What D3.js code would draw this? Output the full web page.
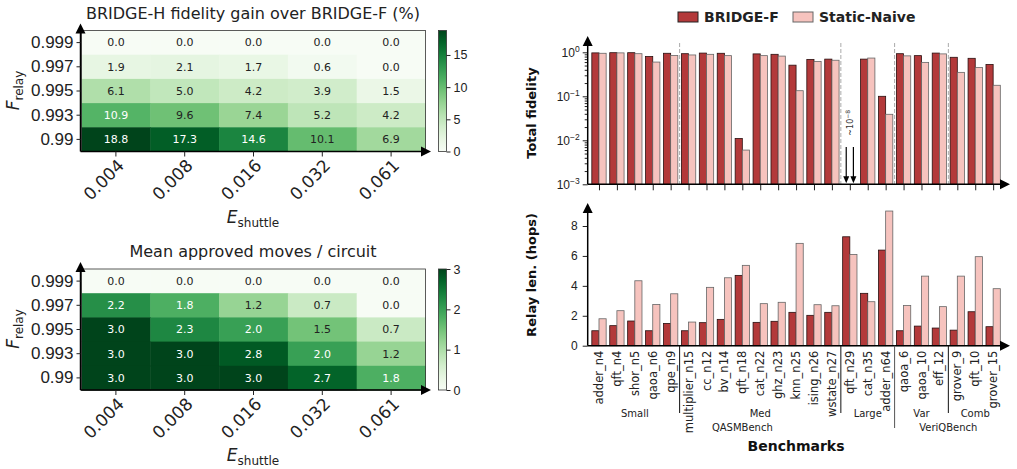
<!DOCTYPE html>
<html>
<head>
<meta charset="utf-8">
<script src="https://cdn.jsdelivr.net/npm/d3@7"></script>
<style>
  body { margin: 0; background: #fff; }
  svg { font-family: "DejaVu Sans", sans-serif; }
</style>
</head>
<body>
<div id="container"></div>
<script>
/* DATA */
const eShuttle = ["0.004", "0.008", "0.016", "0.032", "0.061"];
const fRelay = ["0.999", "0.997", "0.995", "0.993", "0.99"];

// rows follow fRelay, columns follow eShuttle
const gainRows = [
  [0.0, 0.0, 0.0, 0.0, 0.0],
  [1.9, 2.1, 1.7, 0.6, 0.0],
  [6.1, 5.0, 4.2, 3.9, 1.5],
  [10.9, 9.6, 7.4, 5.2, 4.2],
  [18.8, 17.3, 14.6, 10.1, 6.9]
];
const movesRows = [
  [0.0, 0.0, 0.0, 0.0, 0.0],
  [2.2, 1.8, 1.2, 0.7, 0.0],
  [3.0, 2.3, 2.0, 1.5, 0.7],
  [3.0, 3.0, 2.8, 2.0, 1.2],
  [3.0, 3.0, 3.0, 2.7, 1.8]
];

const benchmarks = ["adder_n4", "qft_n4", "shor_n5", "qaoa_n6", "qpe_n9",
  "multiplier_n15", "cc_n12", "bv_n14", "qft_n18", "cat_n22", "ghz_n23", "knn_n25", "ising_n26", "wstate_n27",
  "qft_n29", "cat_n35", "adder_n64",
  "qaoa_6", "qaoa_10", "eff_12",
  "grover_9", "qft_10", "grover_15"];

// index ranges of each size group / suite
const groups = [
  { name: "Small", first: 0, last: 4 },
  { name: "Med", first: 5, last: 13 },
  { name: "Large", first: 14, last: 16 },
  { name: "Var", first: 17, last: 19 },
  { name: "Comb", first: 20, last: 22 }
];
const suites = [
  { name: "QASMBench", first: 0, last: 16 },
  { name: "VeriQBench", first: 17, last: 22 }
];

const fidBridge = [0.97, 0.98, 0.98, 0.80, 0.95, 0.93, 0.96, 0.95, 0.011, 0.92, 0.90, 0.51, 0.69, 0.70,
  1e-8, 0.70, 0.10, 0.93, 0.84, 0.96, 0.77, 0.73, 0.53];
const fidStatic = [0.95, 0.97, 0.93, 0.60, 0.85, 0.87, 0.90, 0.84, 0.006, 0.84, 0.82, 0.134, 0.62, 0.66,
  1e-8, 0.74, 0.039, 0.83, 0.59, 0.92, 0.35, 0.45, 0.178];

const hopsBridge = [1.0, 1.34, 1.65, 1.0, 1.49, 1.0, 1.54, 1.76, 4.70, 1.56, 1.63, 2.23, 2.03, 2.23,
  7.28, 3.50, 6.39, 1.0, 1.31, 1.18, 1.04, 2.27, 1.27];
const hopsStatic = [1.80, 2.34, 4.34, 2.76, 3.47, 1.58, 3.90, 4.54, 5.37, 2.81, 2.90, 6.84, 2.74, 2.67,
  6.10, 2.94, 9.0, 2.69, 4.65, 2.61, 4.65, 5.95, 3.81];

const series = ["BRIDGE-F", "Static-Naive"];

/* CONSTANTS */
const width = 1017, height = 469;
const colF = "#b3393a", colS = "#f6c3be";

const svg = d3.select("#container")
  .append("svg")
  .attr("width", width)
  .attr("height", height);

function arrowUp(x, y) {
  svg.append("path").attr("d", `M${x - 5},${y + 10}L${x},${y}L${x + 5},${y + 10}Z`).attr("fill", "#000");
}
function arrowRight(x, y) {
  svg.append("path").attr("d", `M${x - 10},${y - 5}L${x},${y}L${x - 10},${y + 5}Z`).attr("fill", "#000");
}

/* HEATMAPS */
function heatmap(top, title, rows, vmax, cbTicks) {
  const xs = d3.scaleBand().domain(eShuttle).range([81.5, 425.5]);
  const ys = d3.scaleBand().domain(fRelay).range([top, top + 121]);
  const color = d3.scaleSequential(d3.interpolateGreens).domain([0, vmax]);
  const bottom = top + 121;

  const cells = [];
  rows.forEach((r, i) => r.forEach((v, j) => cells.push({ row: fRelay[i], col: eShuttle[j], v })));

  const g = svg.append("g");
  g.selectAll("rect.cell")
    .data(cells)
    .join("rect")
    .attr("class", "cell")
    .attr("x", d => xs(d.col))
    .attr("y", d => ys(d.row))
    .attr("width", xs.bandwidth() + 0.5)
    .attr("height", ys.bandwidth() + 0.5)
    .attr("fill", d => color(d.v));

  g.selectAll("text.val")
    .data(cells)
    .join("text")
    .attr("class", "val")
    .attr("x", d => xs(d.col) + xs.bandwidth() / 2)
    .attr("y", d => ys(d.row) + ys.bandwidth() / 2)
    .attr("dy", "0.35em")
    .attr("text-anchor", "middle")
    .attr("font-size", 11)
    .attr("fill", d => d.v / vmax > 0.55 ? "#fff" : "#222")
    .text(d => d.v.toFixed(1));

  // frame
  svg.append("rect").attr("x", 81.5).attr("y", top).attr("width", 344).attr("height", 121)
    .attr("fill", "none").attr("stroke", "#333").attr("stroke-width", 0.8);
  svg.append("line").attr("x1", 80.5).attr("x2", 80.5).attr("y1", bottom).attr("y2", top - 4)
    .attr("stroke", "#000").attr("stroke-width", 1.5);
  svg.append("line").attr("x1", 80.5).attr("x2", 422).attr("y1", bottom).attr("y2", bottom)
    .attr("stroke", "#000").attr("stroke-width", 1.5);
  arrowUp(80.5, top - 7);
  arrowRight(431, bottom);

  // axes
  const yAx = svg.append("g").attr("transform", `translate(80.5,0)`)
    .call(d3.axisLeft(ys).tickSize(4).tickPadding(3));
  yAx.select(".domain").remove();
  yAx.selectAll("text").attr("font-size", 17).attr("fill", "#222");

  const xAx = svg.append("g").attr("transform", `translate(0,${bottom})`)
    .call(d3.axisBottom(xs).tickSize(5).tickFormat(""));
  xAx.select(".domain").remove();
  svg.selectAll(null).data(eShuttle).join("text")
    .attr("transform", d => `translate(${xs(d) + xs.bandwidth() / 2 + 5},${bottom + 11}) rotate(-45)`)
    .attr("text-anchor", "end")
    .attr("dy", "0.35em")
    .attr("font-size", 17)
    .attr("fill", "#222")
    .text(d => d);

  // title and labels
  svg.append("text").attr("x", 253).attr("y", top - 12).attr("text-anchor", "middle")
    .attr("font-size", 16).attr("fill", "#222").text(title);

  const yl = svg.append("text")
    .attr("transform", `translate(19,${top + 60}) rotate(-90)`)
    .attr("text-anchor", "middle").attr("fill", "#222");
  yl.append("tspan").attr("font-size", 17).attr("font-style", "italic").text("F");
  yl.append("tspan").attr("font-size", 12).attr("dy", 4).text("relay");

  const xl = svg.append("text").attr("x", 253).attr("y", bottom + 71)
    .attr("text-anchor", "middle").attr("fill", "#222");
  xl.append("tspan").attr("font-size", 17).attr("font-style", "italic").text("E");
  xl.append("tspan").attr("font-size", 12).attr("dy", 4).text("shuttle");

  // colorbar
  const gid = "grad" + Math.round(top);
  const grad = svg.append("defs").append("linearGradient").attr("id", gid)
    .attr("x1", 0).attr("x2", 0).attr("y1", 1).attr("y2", 0);
  d3.range(0, 1.0001, 0.1).forEach(t => grad.append("stop")
    .attr("offset", t).attr("stop-color", color(t * vmax)));
  svg.append("rect").attr("x", 438.5).attr("y", top).attr("width", 8).attr("height", 121)
    .attr("fill", `url(#${gid})`).attr("stroke", "#333").attr("stroke-width", 0.8);
  const cb = d3.scaleLinear().domain([0, vmax]).range([bottom, top]);
  const cAx = svg.append("g").attr("transform", `translate(446.5,0)`)
    .call(d3.axisRight(cb).tickValues(cbTicks).tickSize(4).tickPadding(3).tickFormat(d3.format("d")));
  cAx.select(".domain").remove();
  cAx.selectAll("text").attr("font-size", 12.5).attr("fill", "#222");
}

heatmap(30.5, "BRIDGE-H fidelity gain over BRIDGE-F (%)", gainRows, 18.8, [0, 5, 10, 15]);
heatmap(269, "Mean approved moves / circuit", movesRows, 3, [0, 1, 2, 3]);

/* BAR CHARTS */
const xScale = d3.scaleLinear().domain([-0.63, 22.55]).range([587.7, 1003]);
const bw = 0.4;

// LEGEND
const leg = svg.append("g").attr("transform", "translate(678,12)");
series.forEach((s, i) => {
  const lx = i === 0 ? 0 : 115;
  leg.append("rect").attr("x", lx).attr("y", 0).attr("width", 20).attr("height", 10)
    .attr("fill", i === 0 ? colF : colS).attr("stroke", i === 0 ? "#222" : "#666");
  leg.append("text").attr("x", lx + 26).attr("y", 5).attr("dy", "0.35em")
    .attr("font-size", 14).attr("font-weight", "bold").attr("fill", "#222").text(s);
});

// TOP: TOTAL FIDELITY (LOG)
const yTop = d3.scaleLog().domain([1e-3, 1]).range([184.3, 52.3]);
const yBase = yTop(1e-3);

[4.5, 13.5, 16.5, 19.5].forEach(b => {
  svg.append("line").attr("x1", xScale(b)).attr("x2", xScale(b))
    .attr("y1", 43).attr("y2", yBase)
    .attr("stroke", "#aaa").attr("stroke-dasharray", "4,2").attr("stroke-width", 1);
});

const fidData = benchmarks.map((b, i) => ({ i, f: fidBridge[i], s: fidStatic[i] }));
svg.selectAll("rect.fidF")
  .data(fidData.filter(d => d.f >= 1e-3))
  .join("rect").attr("class", "fidF")
  .attr("x", d => xScale(d.i - bw)).attr("width", xScale(bw) - xScale(0))
  .attr("y", d => yTop(d.f)).attr("height", d => yBase - yTop(d.f))
  .attr("fill", colF).attr("stroke", "#2a1010").attr("stroke-width", 0.8);
svg.selectAll("rect.fidS")
  .data(fidData.filter(d => d.s >= 1e-3))
  .join("rect").attr("class", "fidS")
  .attr("x", d => xScale(d.i)).attr("width", xScale(bw) - xScale(0))
  .attr("y", d => yTop(d.s)).attr("height", d => yBase - yTop(d.s))
  .attr("fill", colS).attr("stroke", "#666").attr("stroke-width", 0.8);

// tiny values marker
fidData.filter(d => d.f < 1e-3).forEach(d => {
  [d.i - bw / 2, d.i + bw / 2].forEach(p => {
    const ax = xScale(p);
    svg.append("line").attr("x1", ax).attr("x2", ax).attr("y1", yTop(7e-3)).attr("y2", yBase - 6)
      .attr("stroke", "#000").attr("stroke-width", 1.2);
    svg.append("path").attr("d", `M${ax - 3},${yBase - 8}L${ax},${yBase - 1}L${ax + 3},${yBase - 8}Z`).attr("fill", "#000");
  });
  const t = svg.append("text")
    .attr("transform", `translate(${xScale(d.i) + 3},${yTop(0.025)}) rotate(-90)`)
    .attr("text-anchor", "middle").attr("font-size", 8).attr("fill", "#333");
  t.append("tspan").text("~10");
  t.append("tspan").attr("dy", -3).attr("font-size", 6).text("\u22128");
});

const yTopAx = svg.append("g").attr("transform", "translate(587.7,0)")
  .call(d3.axisLeft(yTop).tickValues([1e-3, 1e-2, 1e-1, 1]).tickSize(5).tickPadding(3));
yTopAx.select(".domain").remove();
yTopAx.selectAll(".tick text").each(function (d) {
  const t = d3.select(this).text("10").attr("font-size", 12).attr("fill", "#222");
  t.append("tspan").attr("dy", "-0.6em").attr("font-size", 8.5)
    .text(String(Math.round(Math.log10(d))).replace("-", "\u2212"));
});
const minors = [];
[1e-3, 1e-2, 1e-1].forEach(dec => d3.range(2, 10).forEach(k => minors.push(dec * k)));
const yMinAx = svg.append("g").attr("transform", "translate(587.7,0)")
  .call(d3.axisLeft(yTop).tickValues(minors).tickSize(3).tickFormat(""));
yMinAx.select(".domain").remove();

svg.append("g").attr("transform", `translate(0,${yBase})`)
  .call(d3.axisBottom(xScale).tickValues(d3.range(benchmarks.length)).tickSize(6).tickFormat(""))
  .select(".domain").remove();

svg.append("line").attr("x1", 587.7).attr("x2", 587.7).attr("y1", yBase).attr("y2", 44)
  .attr("stroke", "#000").attr("stroke-width", 1.5);
svg.append("line").attr("x1", 587.7).attr("x2", 1002).attr("y1", yBase).attr("y2", yBase)
  .attr("stroke", "#000").attr("stroke-width", 1.5);
arrowUp(587.7, 36);
arrowRight(1010, yBase);

svg.append("text").attr("transform", "translate(536,113) rotate(-90)")
  .attr("text-anchor", "middle").attr("font-size", 13).attr("font-weight", "bold")
  .attr("fill", "#111").text("Total fidelity");

// BOTTOM: RELAY LENGTH
const yBot = d3.scaleLinear().domain([0, 8]).range([345.7, 226]);
const yZero = yBot(0);
const hopData = benchmarks.map((b, i) => ({ i, f: hopsBridge[i], s: hopsStatic[i] }));

svg.selectAll("rect.hopF")
  .data(hopData)
  .join("rect").attr("class", "hopF")
  .attr("x", d => xScale(d.i - bw)).attr("width", xScale(bw) - xScale(0))
  .attr("y", d => yBot(d.f)).attr("height", d => yZero - yBot(d.f))
  .attr("fill", colF).attr("stroke", "#2a1010").attr("stroke-width", 0.8);
svg.selectAll("rect.hopS")
  .data(hopData)
  .join("rect").attr("class", "hopS")
  .attr("x", d => xScale(d.i)).attr("width", xScale(bw) - xScale(0))
  .attr("y", d => yBot(d.s)).attr("height", d => yZero - yBot(d.s))
  .attr("fill", colS).attr("stroke", "#666").attr("stroke-width", 0.8);

const yBotAx = svg.append("g").attr("transform", "translate(587.7,0)")
  .call(d3.axisLeft(yBot).tickValues([0, 2, 4, 6, 8]).tickSize(5).tickPadding(5));
yBotAx.select(".domain").remove();
yBotAx.selectAll("text").attr("font-size", 12).attr("fill", "#222");

svg.append("g").attr("transform", `translate(0,${yZero})`)
  .call(d3.axisBottom(xScale).tickValues(d3.range(benchmarks.length)).tickSize(0).tickFormat(""))
  .select(".domain").remove();

svg.selectAll("text.bench")
  .data(benchmarks)
  .join("text").attr("class", "bench")
  .attr("transform", (d, i) => `translate(${xScale(i)},${yZero + 5}) rotate(-90)`)
  .attr("text-anchor", "end")
  .attr("dy", "0.35em")
  .attr("font-size", 11.5)
  .attr("fill", "#222")
  .text(d => d);

svg.append("line").attr("x1", 587.7).attr("x2", 587.7).attr("y1", yZero).attr("y2", 211)
  .attr("stroke", "#000").attr("stroke-width", 1.5);
svg.append("line").attr("x1", 587.7).attr("x2", 1002).attr("y1", yZero).attr("y2", yZero)
  .attr("stroke", "#000").attr("stroke-width", 1.5);
arrowUp(587.7, 203);
arrowRight(1010, yZero);

svg.append("text").attr("transform", "translate(536,275) rotate(-90)")
  .attr("text-anchor", "middle").attr("font-size", 13).attr("font-weight", "bold")
  .attr("fill", "#111").text("Relay len. (hops)");

// group separators and labels
[4.5, 13.5, 19.5].forEach(b => {
  svg.append("line").attr("x1", xScale(b)).attr("x2", xScale(b))
    .attr("y1", yZero).attr("y2", 413).attr("stroke", "#111").attr("stroke-width", 1);
});
svg.append("line").attr("x1", xScale(16.5)).attr("x2", xScale(16.5))
  .attr("y1", yZero).attr("y2", 428).attr("stroke", "#555").attr("stroke-width", 1);

svg.selectAll("text.grp")
  .data(groups)
  .join("text").attr("class", "grp")
  .attr("x", d => xScale((d.first + d.last) / 2))
  .attr("y", 416.5)
  .attr("text-anchor", "middle").attr("font-size", 10).attr("fill", "#222")
  .text(d => d.name);
svg.selectAll("text.suite")
  .data(suites)
  .join("text").attr("class", "suite")
  .attr("x", d => xScale((d.first + d.last) / 2))
  .attr("y", 430.5)
  .attr("text-anchor", "middle").attr("font-size", 10).attr("fill", "#222")
  .text(d => d.name);

svg.append("text").attr("x", 796).attr("y", 451)
  .attr("text-anchor", "middle").attr("font-size", 14).attr("font-weight", "bold")
  .attr("fill", "#111").text("Benchmarks");

svg.selectAll(".tick line").attr("stroke", "#222");
</script>
</body>
</html>
